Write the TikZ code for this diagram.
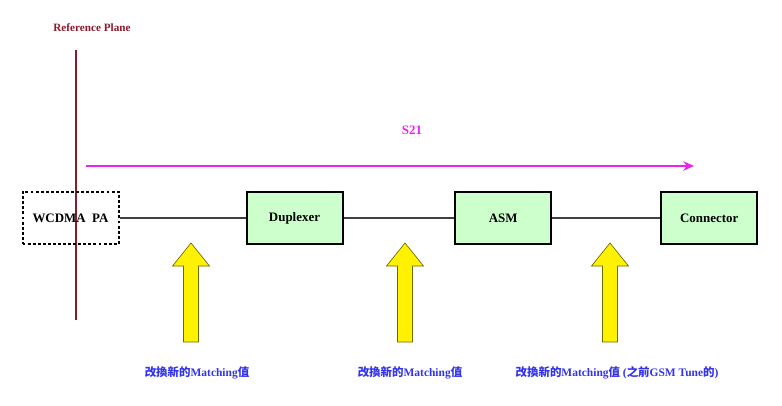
\documentclass[tikz,border=0pt]{standalone}
\usepackage{fontspec}
\setmainfont{Liberation Serif}
\newfontfamily\cjk{Noto Sans CJK TC}
\usepackage{tikz}
\usetikzlibrary{positioning, arrows.meta}

\definecolor{planered}{HTML}{8B1A2B}
\definecolor{boxgreen}{HTML}{CCFFCC}
\definecolor{labelblue}{HTML}{3333EE}
\definecolor{arrowedge}{HTML}{6B6B00}
\definecolor{spink}{HTML}{EE22EE}

\begin{document}
\begin{tikzpicture}[
    x=0.75pt, y=-0.75pt,
    block/.style={rectangle, draw, line width=1.5pt, fill=boxgreen,
        minimum width=72pt, minimum height=39pt, inner sep=0pt,
        font=\fontsize{9.7}{11}\selectfont\bfseries},
    pabox/.style={block, fill=none, dash pattern=on 2.2pt off 1.6pt},
    tune/.style={font=\fontsize{8.6}{10}\selectfont\bfseries, text=labelblue}
]
\useasboundingbox (0,0) rectangle (782,405);

% reference plane
\node[font=\fontsize{8.4}{10}\selectfont\bfseries, text=planered] (refl) at (92,28) {Reference Plane};
\coordinate (rtop) at (76,50);
\coordinate (rbot) at (76,320);
\draw[planered, line width=0.9pt] (rtop) -- (rbot);

% blocks
\node[pabox] (pa) at (70.5,218) {WCDMA\ \ PA};
\node[block, right=94.5pt of pa] (dup) {Duplexer};
\node[block, right=83pt of dup] (asm) {ASM};
\node[block, right=81pt of asm] (conn) {Connector};

\draw[line width=0.8pt, black!75] (pa) -- (dup);
\draw[line width=0.8pt, black!75] (dup) -- (asm);
\draw[line width=0.8pt, black!75] (asm) -- (conn);

% S21
\coordinate (s21a) at (86,166);
\coordinate (s21b) at (694,166);
\draw[spink, line width=1.5pt, -{Stealth[length=8pt, width=7pt]}] (s21a) -- (s21b);
\node[font=\fontsize{9.7}{11}\selectfont\bfseries, text=spink] (s21) at (412,130) {S21};

% matching arrows
\foreach \x in {191, 405, 610} {
    \draw[fill=yellow, draw=arrowedge, line width=0.5pt]
        (\x,243) -- (\x+18.5,266) -- (\x+7.5,266) -- (\x+7.5,342)
        -- (\x-7.5,342) -- (\x-7.5,266) -- (\x-18.5,266) -- cycle;
}

\node[tune] (m1) at (197,373) {{\cjk 改換新的}Matching{\cjk 值}};
\node[tune] (m2) at (410,373) {{\cjk 改換新的}Matching{\cjk 值}};
\node[tune] (m3) at (617,373) {{\cjk 改換新的}Matching{\cjk 值} ({\cjk 之前}GSM Tune{\cjk 的})};

\end{tikzpicture}
\end{document}
